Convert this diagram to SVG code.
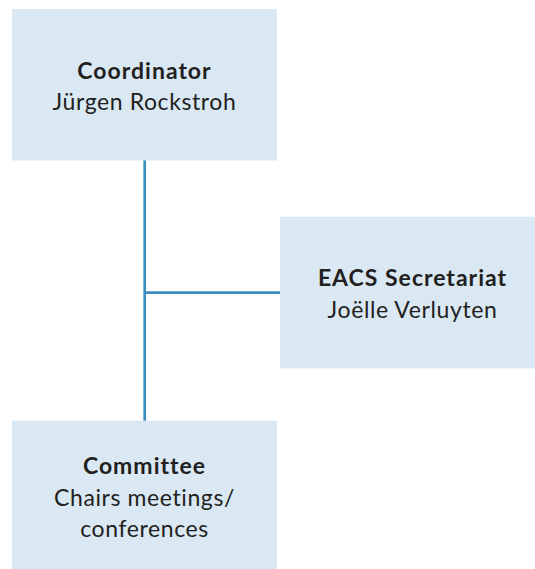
<svg xmlns="http://www.w3.org/2000/svg" width="535" height="569" viewBox="0 0 535 569">
<style>
.box{fill:#d9e8f3}
.t{font-family:Lato,"Noto Sans",sans-serif;font-size:23px;fill:#231f20;text-anchor:middle;letter-spacing:0.6px}
.b{font-weight:bold;letter-spacing:1px}
.c{stroke:#3a8fbd;stroke-width:2.7;fill:none}
</style>
<rect width="535" height="569" fill="#ffffff"/>
<g id="connectors">
<line class="c" x1="144.7" y1="160" x2="144.7" y2="421"/>
<line class="c" x1="144.7" y1="292.7" x2="280" y2="292.7"/>
</g>
<g id="coordinator">
<rect class="box" x="12" y="9" width="265" height="151.5"/>
<text class="t b" x="144.5" y="79">Coordinator</text>
<text class="t" x="144.5" y="110">Jürgen Rockstroh</text>
</g>
<g id="secretariat">
<rect class="box" x="280" y="216.7" width="255" height="151.6"/>
<text class="t b" x="412.5" y="286">EACS Secretariat</text>
<text class="t" x="412.5" y="318">Joëlle Verluyten</text>
</g>
<g id="committee">
<rect class="box" x="12" y="420.7" width="265" height="148.3"/>
<text class="t b" x="144.5" y="474">Committee</text>
<text class="t" x="144.5" y="506">Chairs meetings/</text>
<text class="t" x="144.5" y="537">conferences</text>
</g>
</svg>
